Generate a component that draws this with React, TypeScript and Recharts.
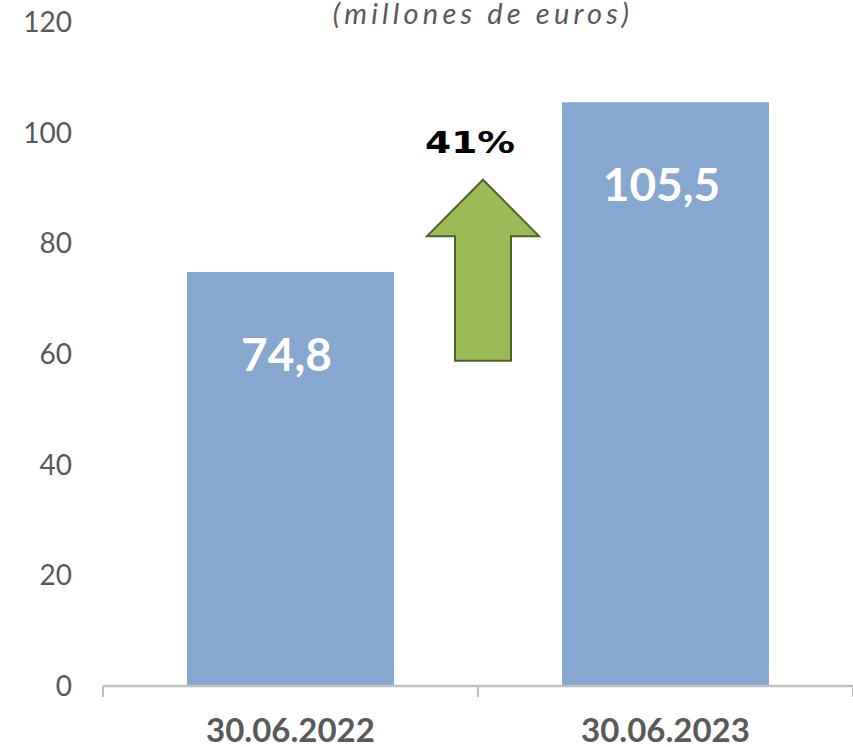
import React from 'react';
import { BarChart, Bar, XAxis, YAxis, LabelList, ReferenceDot } from 'recharts';

const categories = ['30.06.2022', '30.06.2023'];
const values = [74.8, 105.5];
const valueLabels = ['74,8', '105,5'];
const yTicks = [0, 20, 40, 60, 80, 100, 120];
const growthLabel = '41%';
const arrowTip = 91.5;
const title = '(millones de euros)';

const data = categories.map((c, i) => ({ name: c, value: values[i], label: valueLabels[i] }));

const W = 853;
const H = 747;
const Y_AXIS_W = 103;
const TOP = 22;
const X_AXIS_H = 61;
const PLOT_W = W - Y_AXIS_W;
const PLOT_H = H - TOP - X_AXIS_H;
const BAND = PLOT_W / categories.length;
const PX_PER_UNIT = PLOT_H / 120;

const XTick = (props: any) => {
  const { x, y, payload, index } = props;
  return (
    <g>
      {index === 0 && (
        <line x1={x - BAND / 2} x2={x - BAND / 2} y1={y} y2={y + 11} stroke="#BFBFBF" strokeWidth={2} />
      )}
      <line x1={x + BAND / 2} x2={x + BAND / 2} y1={y} y2={y + 11} stroke="#BFBFBF" strokeWidth={2} />
      <text x={x} y={y + 56} textAnchor="middle" fill="#595959" fontFamily="Lato" fontWeight={700} fontSize={33}>
        {payload.value}
      </text>
    </g>
  );
};

const BarLabel = (props: any) => {
  const { x, y, width, index } = props;
  return (
    <text x={x + width / 2 - 4} y={y + 99} textAnchor="middle" fill="#FFFFFF" fontFamily="Lato" fontWeight={700} fontSize={46}>
      {valueLabels[index]}
    </text>
  );
};

const Arrow = (props: any) => {
  const { cx, cy } = props;
  const tx = cx + BAND / 2 + 5;
  const ty = cy;
  const headH = 10.2 * PX_PER_UNIT;
  const len = (arrowTip - 58.8) * PX_PER_UNIT;
  const hw = 56;
  const sw = 28;
  const pts = [
    [tx, ty],
    [tx + hw, ty + headH],
    [tx + sw, ty + headH],
    [tx + sw, ty + len],
    [tx - sw, ty + len],
    [tx - sw, ty + headH],
    [tx - hw, ty + headH],
  ]
    .map((p) => p.join(','))
    .join(' ');
  return (
    <g>
      <polygon points={pts} fill="#9BBB59" stroke="#4F6228" strokeWidth={2} />
      <text
        x={tx - 58}
        y={ty - 27}
        textAnchor="start"
        fill="#000000"
        fontFamily="DejaVu Sans"
        fontWeight={700}
        fontSize={30}
        textLength={90}
        lengthAdjust="spacingAndGlyphs"
      >
        {growthLabel}
      </text>
    </g>
  );
};

export default function App() {
  return (
    <div style={{ position: 'absolute', left: 0, top: 0, width: W, height: H, background: '#fff' }}>
      <BarChart width={W} height={H} data={data} margin={{ top: TOP, right: 0, bottom: 0, left: 0 }} barSize={207}>
        <YAxis
          type="number"
          domain={[0, 120]}
          ticks={yTicks}
          width={Y_AXIS_W}
          axisLine={false}
          tickLine={false}
          tickSize={0}
          tickMargin={31}
          tick={{ fill: '#595959', fontFamily: 'Lato', fontSize: 28 }}
          interval={0}
        />
        <XAxis
          dataKey="name"
          height={X_AXIS_H}
          axisLine={{ stroke: '#BFBFBF', strokeWidth: 2.5 }}
          tickLine={false}
          tickSize={0}
          tickMargin={0}
          tick={<XTick />}
          interval={0}
        />
        <Bar dataKey="value" fill="#85A7D0" isAnimationActive={false}>
          <LabelList dataKey="label" content={<BarLabel />} />
        </Bar>
        <ReferenceDot x={categories[0]} y={arrowTip} r={0} shape={<Arrow />} ifOverflow="visible" />
      </BarChart>
      <div
        style={{
          position: 'absolute',
          left: 0,
          width: W,
          top: 0,
          textAlign: 'center',
          paddingLeft: 113,
          boxSizing: 'border-box',
          fontFamily: 'Lato',
          fontStyle: 'italic',
          fontSize: 29,
          letterSpacing: 4.2,
          color: '#595959',
          lineHeight: '26px',
          whiteSpace: 'nowrap',
        }}
      >
        {title}
      </div>
    </div>
  );
}
